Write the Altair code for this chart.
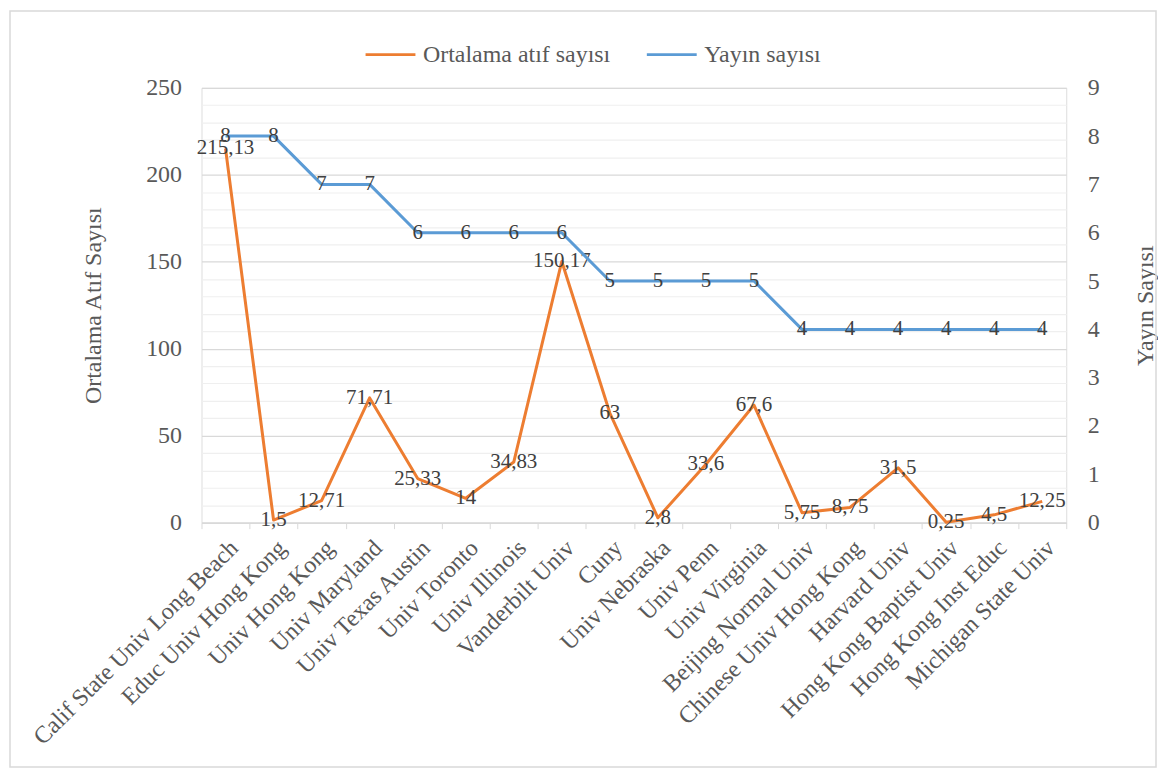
import altair as alt
import pandas as pd

categories = [
    "Calif State Univ Long Beach", "Educ Univ Hong Kong", "Univ Hong Kong",
    "Univ Maryland", "Univ Texas Austin", "Univ Toronto", "Univ Illinois",
    "Vanderbilt Univ", "Cuny", "Univ Nebraska", "Univ Penn", "Univ Virginia",
    "Beijing Normal Univ", "Chinese Univ Hong Kong", "Harvard Univ",
    "Hong Kong Baptist Univ", "Hong Kong Inst Educ", "Michigan State Univ",
]
atif = [215.13, 1.5, 12.71, 71.71, 25.33, 14, 34.83, 150.17, 63, 2.8, 33.6,
        67.6, 5.75, 8.75, 31.5, 0.25, 4.5, 12.25]
yayin = [8, 8, 7, 7, 6, 6, 6, 6, 5, 5, 5, 5, 4, 4, 4, 4, 4, 4]
series_names = ["Ortalama atıf sayısı", "Yayın sayısı"]
series_colors = ["#ED7D31", "#5B9BD5"]


def fmt(v):
    return f"{v:g}".replace(".", ",")


df = pd.DataFrame({
    "uni": categories,
    "atif": atif,
    "yayin": yayin,
    "atif_lbl": [fmt(v) for v in atif],
    "yayin_lbl": [fmt(v) for v in yayin],
    "s_o": [series_names[0]] * len(categories),
    "s_b": [series_names[1]] * len(categories),
})

FONT = "Liberation Serif"
GREY = "#595959"

xenc = alt.X(
    "uni:N", sort=categories, bandPosition=0.5,
    scale=alt.Scale(type="band", paddingInner=0, paddingOuter=0),
    axis=alt.Axis(title=None, labelAngle=-45, labelFontSize=24, labelFont=FONT,
                  labelColor=GREY, tickBand="extent", tickColor="#d9d9d9",
                  tickSize=6, domainColor="#d9d9d9", domainWidth=1.5,
                  labelPadding=7, labelLimit=500, grid=False),
)

color_scale = alt.Scale(domain=series_names, range=series_colors)
legend = alt.Legend(
    title=None, orient="none", legendX=163, legendY=-60, direction="horizontal",
    symbolType="stroke", symbolSize=2500, symbolStrokeWidth=3,
    labelFont=FONT, labelFontSize=24, labelColor=GREY, labelOffset=6,
    columnPadding=30, padding=0, labelLimit=400, columns=2,
)

base = alt.Chart(df)

y_left = alt.Y(
    "atif:Q", scale=alt.Scale(domain=[0, 250], nice=False),
    axis=alt.Axis(
        title="Ortalama Atıf Sayısı", values=list(range(0, 251, 10)),
        labelExpr="datum.value % 50 === 0 ? datum.label : ''",
        labelOverlap=False, ticks=False, domain=False,
        gridColor={"condition": {"test": "datum.value % 50 === 0", "value": "#d9d9d9"},
                   "value": "#efefef"},
        gridWidth=1.2,
        labelFont=FONT, labelFontSize=24, labelColor=GREY, labelPadding=20,
        titleFont=FONT, titleFontSize=24, titleColor=GREY, titleFontWeight="normal",
        titlePadding=40, orient="left",
    ),
)

line_o = base.mark_line(strokeWidth=3, strokeJoin="round").encode(
    x=xenc, y=y_left,
    color=alt.Color("s_o:N", scale=color_scale, legend=legend),
)
text_o = base.mark_text(font=FONT, fontSize=21, color="#404040",
                        align="center", baseline="middle").encode(
    x=xenc, y=y_left, text="atif_lbl:N")
left = alt.layer(line_o, text_o)

y_right = alt.Y(
    "yayin:Q", scale=alt.Scale(domain=[0, 9], nice=False),
    axis=alt.Axis(
        title="Yayın Sayısı", values=list(range(0, 10)), orient="right",
        grid=False, ticks=False, domain=False,
        labelFont=FONT, labelFontSize=24, labelColor=GREY, labelPadding=21,
        titleFont=FONT, titleFontSize=24, titleColor=GREY, titleFontWeight="normal",
        titleAngle=270, titlePadding=58,
    ),
)
line_b = base.mark_line(strokeWidth=3, strokeJoin="round").encode(
    x=xenc, y=y_right,
    color=alt.Color("s_b:N", scale=color_scale, legend=legend),
)
text_b = base.mark_text(font=FONT, fontSize=21, color="#404040",
                        align="center", baseline="middle").encode(
    x=xenc, y=y_right, text="yayin_lbl:N")
right = alt.layer(line_b, text_b)

border = alt.Chart(alt.Data(values=[{"a": 1}])).mark_rect(
    fillOpacity=0, stroke="#d9d9d9", strokeWidth=1.5).encode(
    x=alt.value(-192), x2=alt.value(957), y=alt.value(-77), y2=alt.value(681))

chart = alt.layer(border, left, right).resolve_scale(y="independent").properties(
    width=867, height=436,
    padding={"left": 194, "top": 79, "right": 92, "bottom": 250},
    autosize=alt.AutoSizeParams(type="none"),
).configure_view(stroke=None).configure_axis(
    titleFont=FONT, labelFont=FONT, titleFontWeight="normal",
).configure_legend(
    labelFont=FONT, titleFont=FONT,
).configure(background="white", font=FONT)

chart.save("out.html", embed_options={"renderer": "svg", "actions": False})
